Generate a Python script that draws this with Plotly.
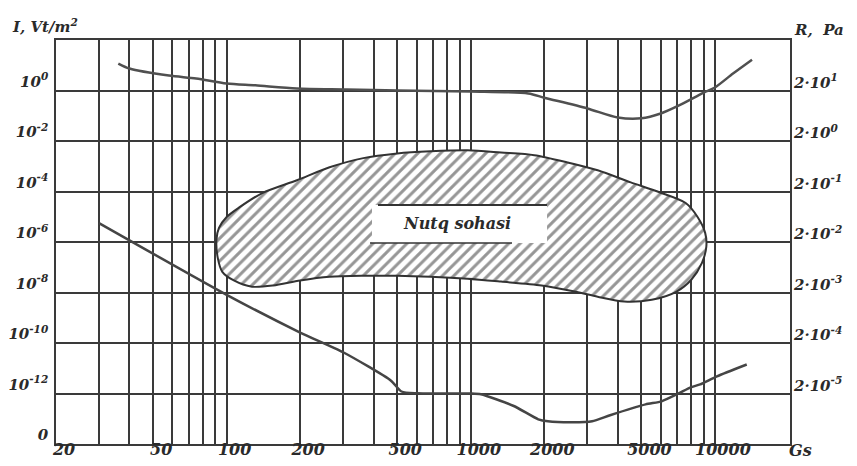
import plotly.graph_objects as go

# ---------------- data ----------------
# Pain threshold (upper curve): frequency (Gs = Hz) and intensity (W/m^2)
pain_freq = [36, 40, 58, 75, 100, 131, 194, 309, 500, 1000, 1720, 2000, 3000,
             4000, 5000, 6000, 7130, 9000, 10000, 11860, 14190]
pain_int = [11.7, 7.4, 3.9, 3.0, 1.9, 1.6, 1.2, 1.1, 1.0, 0.91, 0.76, 0.52, 0.195,
            0.085, 0.079, 0.123, 0.257, 0.83, 1.32, 4.7, 16.6]

# Hearing threshold (lower curve)
hear_freq = [30, 100, 200, 300, 470, 520, 600, 1000, 1100, 1500, 1890, 2070, 2600,
             3140, 3720, 5200, 6050, 7100, 7950, 8700, 10190, 13500]
hear_int = [5.6e-6, 8.1e-9, 2.6e-10, 4.3e-11, 3.3e-12, 1.2e-12, 1.02e-12, 1.0e-12,
            9.3e-13, 3.2e-13, 9.5e-14, 7.9e-14, 7.2e-14, 7.9e-14, 1.38e-13, 3.7e-13,
            4.9e-13, 1.0e-12, 1.74e-12, 2.3e-12, 4.8e-12, 1.41e-11]

# Speech area outline ("Nutq sohasi")
speech_freq = [90.8, 93, 100, 113, 140, 194, 264, 363, 500, 684, 970, 1330, 1820,
               2470, 3310, 4520, 5890, 7590, 8490, 9120, 9220, 8850, 8000, 6940,
               5510, 4250, 3310, 2700, 1950, 1330, 970, 684, 500, 363, 264, 200,
               155, 127, 107, 96, 92, 90.8]
speech_int = [1.2e-6, 3.6e-6, 9.8e-6, 2.4e-5, 8.7e-5, 2.8e-4, 9.1e-4, 2.1e-3, 3.2e-3,
              3.9e-3, 4.3e-3, 3.5e-3, 2.75e-3, 1.45e-3, 6.9e-4, 2.3e-4, 9.5e-5, 3.5e-5,
              9.8e-6, 2.3e-6, 6.5e-7, 1.5e-7, 3.2e-8, 1.07e-8, 5.2e-9, 4.4e-9, 6.8e-9,
              1.07e-8, 1.9e-8, 2.7e-8, 3.5e-8, 4.2e-8, 4.6e-8, 4.6e-8, 4.2e-8, 3.0e-8,
              1.9e-8, 1.7e-8, 3.0e-8, 6.6e-8, 2.3e-7, 1.2e-6]

# Axis ticks / grid
x_grid = [20, 30, 40, 50, 60, 70, 80, 90, 100, 200, 300, 400, 500, 600, 700, 800, 900,
          1000, 2000, 3000, 4000, 5000, 6000, 7000, 8000, 9000, 10000]
x_labels = {20: "20", 50: "50", 100: "100", 200: "200", 500: "500", 1000: "1000",
            2000: "2000", 5000: "5000", 10000: "10000"}
y_left_vals = [1e-14, 1e-12, 1e-10, 1e-8, 1e-6, 1e-4, 1e-2, 1e0]
y_left_text = ["0", "10<sup>-12</sup>", "10<sup>-10</sup>", "10<sup>-8</sup>",
               "10<sup>-6</sup>", "10<sup>-4</sup>", "10<sup>-2</sup>", "10<sup>0</sup>"]
y_right_vals = [1e-12, 1e-10, 1e-8, 1e-6, 1e-4, 1e-2, 1e0]
y_right_text = ["2·10<sup>-5</sup>", "2·10<sup>-4</sup>", "2·10<sup>-3</sup>",
                "2·10<sup>-2</sup>", "2·10<sup>-1</sup>", "2·10<sup>0</sup>",
                "2·10<sup>1</sup>"]

FONT = "DejaVu Serif"
INK = "#2a2a2a"
GRID = "#3a3a3a"

fig = go.Figure()

fig.add_trace(go.Scatter(
    x=speech_freq, y=speech_int, mode="lines", fill="toself",
    fillcolor="white",
    fillpattern=dict(shape="/", size=8, solidity=0.38, fgcolor="#2e2e2e", bgcolor="white"),
    line=dict(color="#333333", width=2, shape="spline", smoothing=0.8),
    hoverinfo="skip", showlegend=False))

fig.add_trace(go.Scatter(
    x=pain_freq, y=pain_int, mode="lines",
    line=dict(color="#505050", width=2.5, shape="spline", smoothing=0.8),
    hoverinfo="skip", showlegend=False))

fig.add_trace(go.Scatter(
    x=hear_freq, y=hear_int, mode="lines",
    line=dict(color="#454545", width=2.5, shape="spline", smoothing=0.6),
    hoverinfo="skip", showlegend=False))

# invisible trace to anchor right axis
fig.add_trace(go.Scatter(
    x=pain_freq, y=pain_int, yaxis="y2", mode="lines",
    line=dict(width=0, color="rgba(0,0,0,0)"),
    hoverinfo="skip", showlegend=False))

tick_font = dict(family=FONT, size=16, color=INK, weight="bold", style="italic")
left_font = dict(family=FONT, size=15, color=INK, weight="bold", style="italic")
right_font = dict(family=FONT, size=15, color=INK, weight="bold", style="italic")

# page body has an 8px margin, so the figure is sized to fit the 857x466 window
fig.update_layout(
    width=849, height=458,
    margin=dict(l=48, r=67, t=32, b=22),
    paper_bgcolor="white", plot_bgcolor="white",
    xaxis=dict(
        type="log", range=[1.30103, 4.3075], automargin=False,
        tickmode="array", tickvals=x_grid,
        ticktext=[x_labels.get(v, "") for v in x_grid],
        showgrid=True, gridcolor=GRID, gridwidth=1.5,
        showline=True, linecolor=GRID, linewidth=1.5, mirror=True,
        ticks="", ticklabelshift=8, ticklabelstandoff=-10,
        tickfont=tick_font, zeroline=False),
    yaxis=dict(
        type="log", range=[-14, 2], automargin=False,
        tickmode="array", tickvals=y_left_vals, ticktext=y_left_text,
        showgrid=True, gridcolor=GRID, gridwidth=1.5,
        showline=True, linecolor=GRID, linewidth=1.5, mirror=True,
        ticks="", ticklabelshift=-9, ticklabelstandoff=3,
        tickfont=left_font, zeroline=False),
    yaxis2=dict(
        type="log", range=[-14, 2], overlaying="y", side="right", automargin=False,
        tickmode="array", tickvals=y_right_vals, ticktext=y_right_text,
        showgrid=False, showline=False, ticks="", ticklabelshift=-8,
        ticklabelstandoff=3, tickfont=right_font, zeroline=False),
)

ann_font = dict(family=FONT, size=15, color=INK, weight="bold", style="italic")
fig.add_annotation(text="I, Vt/m<sup>2</sup>", xref="paper", yref="paper",
                   x=-0.063, y=1.035, xanchor="left", yanchor="middle",
                   showarrow=False, font=ann_font)
fig.add_annotation(text="R,  Pa", xref="paper", yref="paper",
                   x=1.003, y=1.025, xanchor="left", yanchor="middle",
                   showarrow=False, font=ann_font)
fig.add_annotation(text="Gs", xref="paper", yref="paper",
                   x=0.996, y=0.012, xanchor="left", yanchor="top",
                   showarrow=False, font=dict(family=FONT, size=16, color=INK,
                                              weight="bold", style="italic"))

# label box for speech area
fig.add_shape(type="rect", xref="paper", yref="paper",
              x0=0.4305, x1=0.669, y0=0.4975, y1=0.5916,
              fillcolor="white", line=dict(width=0), layer="above")
fig.add_shape(type="line", xref="paper", yref="paper",
              x0=0.4387, x1=0.669, y0=0.5916, y1=0.5916,
              line=dict(color="#333333", width=2), layer="above")
fig.add_shape(type="line", xref="paper", yref="paper",
              x0=0.4278, x1=0.6213, y0=0.4975, y1=0.4975,
              line=dict(color="#333333", width=1.5), layer="above")
fig.add_annotation(text="Nutq sohasi", xref="paper", yref="paper",
                   x=0.547, y=0.545, xanchor="center", yanchor="middle",
                   showarrow=False,
                   font=dict(family=FONT, size=16, color=INK, weight="bold", style="italic"))

fig.write_html("out.html")
